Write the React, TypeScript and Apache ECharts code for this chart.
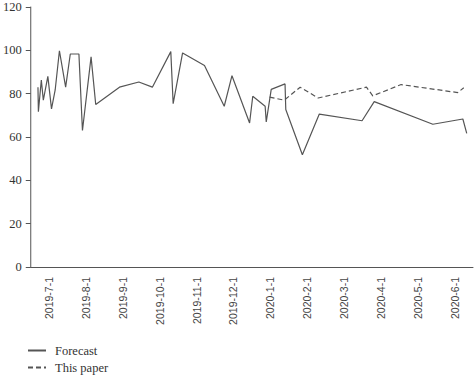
import React, { useEffect, useRef } from "react";
import * as echarts from "echarts";

// x positions are in months since 2019-7-1
const monthLabels = [
  "2019-7-1", "2019-8-1", "2019-9-1", "2019-10-1", "2019-11-1", "2019-12-1",
  "2020-1-1", "2020-2-1", "2020-3-1", "2020-4-1", "2020-5-1", "2020-6-1",
];

const forecastX = [
  0.196, 0.207, 0.287, 0.341, 0.464, 0.563, 0.663, 0.778, 0.947, 1.073, 1.307,
  1.403, 1.637, 1.763, 2.407, 2.933, 3.3, 3.8, 3.864, 4.12, 4.714, 5.25, 5.46,
  5.938, 6.024, 6.36, 6.39, 6.525, 6.9, 6.92, 7.37, 7.83, 8.99, 9.32, 10.91,
  11.725, 11.83,
];
const forecastY = [
  83, 71.7, 86.3, 77, 88, 73, 81.7, 99.8, 83, 98.3, 98.3,
  63, 97, 75, 83, 85.4, 83, 99.4, 75.4, 98.8, 93, 74.2, 88.3,
  66.5, 78.8, 74.2, 67, 82, 84.5, 72.7, 51.8, 70.6, 67.5, 76.3, 65.9,
  68.3, 61.7,
];

const paperX = [6.48, 6.88, 7.31, 7.8, 9.11, 9.28, 10.05, 11.585, 11.75];
const paperY = [78.4, 77, 83, 78, 83, 79, 84.2, 80.5, 82.7];

const yTicks = [0, 20, 40, 60, 80, 100, 120];

export default function App() {
  const ref = useRef<HTMLDivElement>(null);
  useEffect(() => {
    if (!ref.current) return;
    const chart = echarts.init(ref.current, undefined, { renderer: "svg" });
    const axisColor = "#555";
    chart.setOption({
      animation: false,
      grid: { left: 26, right: 1, top: 7, bottom: 109, containLabel: false },
      legend: {
        orient: "vertical",
        left: 27,
        top: 344,
        padding: 0,
        itemWidth: 18,
        itemHeight: 10,
        itemGap: 4,
        itemStyle: { opacity: 0 },
        textStyle: {
          fontFamily: "Liberation Serif",
          fontSize: 12.5,
          color: "#333",
          padding: [0, 0, 0, 4],
        },
        data: ["Forecast", "This paper"],
      },
      xAxis: [
        {
          type: "category",
          data: monthLabels,
          boundaryGap: true,
          axisLine: { lineStyle: { color: axisColor, width: 1 } },
          axisTick: { length: 5, lineStyle: { color: axisColor } },
          axisLabel: {
            rotate: 90,
            interval: 0,
            margin: 10,
            fontFamily: "Liberation Sans",
            fontSize: 10.5,
            color: "#444",
          },
          splitLine: { show: false },
        },
        {
          type: "value",
          min: 0,
          max: 12,
          show: false,
        },
      ],
      yAxis: {
        type: "value",
        min: yTicks[0],
        max: yTicks[yTicks.length - 1],
        interval: 20,
        axisLine: { show: true, lineStyle: { color: axisColor } },
        axisTick: { show: true, length: 5, lineStyle: { color: axisColor } },
        axisLabel: {
          margin: 9,
          fontFamily: "Liberation Serif",
          fontSize: 12.5,
          color: "#333",
        },
        splitLine: { show: false },
      },
      series: [
        {
          name: "Forecast",
          type: "line",
          xAxisIndex: 1,
          symbol: "none",
          data: forecastX.map((x, i) => [x, forecastY[i]]),
          lineStyle: { color: "#555", width: 1.2 },
          itemStyle: { color: "#555" },
        },
        {
          name: "This paper",
          type: "line",
          xAxisIndex: 1,
          symbol: "none",
          data: paperX.map((x, i) => [x, paperY[i]]),
          lineStyle: { color: "#555", width: 1.2, type: [5, 3] },
          itemStyle: { color: "#555" },
        },
      ],
    });
    return () => chart.dispose();
  }, []);
  return <div ref={ref} style={{ width: 474, height: 376, position: "absolute", left: 0, top: 0 }} />;
}
